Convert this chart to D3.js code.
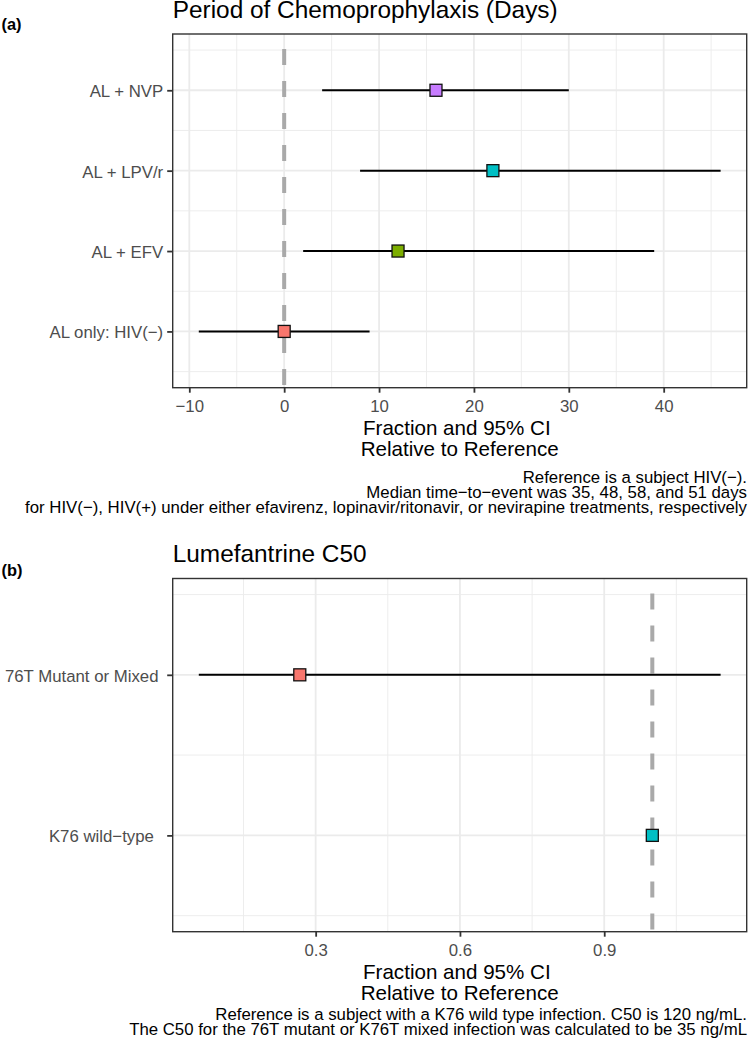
<!DOCTYPE html>
<html><head><meta charset="utf-8">
<script src="https://cdn.jsdelivr.net/npm/d3@7"></script>
<style>
html,body{margin:0;padding:0;background:#fff;}
svg{display:block;font-family:"Liberation Sans",Arial,Helvetica,sans-serif;}
</style></head><body>
<svg id="chart" width="748" height="1050"></svg>
<script>
// ---------- data (panel a) ----------
const chemoCategories = ["AL only: HIV(\u2212)", "AL + EFV", "AL + LPV/r", "AL + NVP"];
const chemoEstimate = [0, 12, 22, 16];
const chemoLower = [-9, 2, 8, 4];
const chemoUpper = [9, 39, 46, 30];
const chemoColors = ["#F8766D", "#7CAE00", "#00BFC4", "#C77CFF"];
const chemoTicks = [-10, 0, 10, 20, 30, 40];
const chemoReference = 0;
const chemoTitle = "Period of Chemoprophylaxis (Days)";
const chemoCaption = [
  "Reference is a subject HIV(\u2212).",
  "Median time\u2212to\u2212event was 35, 48, 58, and 51 days",
  "for HIV(\u2212), HIV(+) under either efavirenz, lopinavir/ritonavir, or nevirapine treatments, respectively"
];

// ---------- data (panel b) ----------
const c50Categories = ["K76 wild\u2212type\u00A0\u00A0", "76T Mutant or Mixed\u00A0"];
const c50Estimate = [1, 0.267];
const c50Lower = [1, 0.057];
const c50Upper = [1, 1.142];
const c50Colors = ["#00BFC4", "#F8766D"];
const c50Ticks = [0.3, 0.6, 0.9];
const c50Reference = 1;
const c50Title = "Lumefantrine C50";
const c50Caption = [
  "Reference is a subject with a K76 wild type infection. C50 is 120 ng/mL.",
  "The C50 for the 76T mutant or K76T mixed infection was calculated to be 35 ng/mL"
];

const axisTitleLines = ["Fraction and 95% CI\u00A0", "Relative to Reference"];

const svg = d3.select("#chart");

function drawPanel(o) {
  const g = svg.append("g");
  const box = o.box;
  const lo = d3.min(o.lower), hi = d3.max(o.upper);
  const pad = (hi - lo) * 0.05;
  const x = d3.scaleLinear().domain([lo - pad, hi + pad]).range([box.left, box.right]);
  const n = o.categories.length;
  const ypad = n * 0.05;
  const y = d3.scaleLinear().domain([0.5 - ypad, n + 0.5 + ypad]).range([box.bottom, box.top]);
  const idx = d3.range(1, n + 1);
  const step = o.ticks[1] - o.ticks[0];
  const dom = x.domain();
  const xMinor = [o.ticks[0] - step / 2].concat(o.ticks.map(t => t + step / 2)).filter(v => v >= dom[0] && v <= dom[1]);
  const yMinor = d3.range(0, n + 1).map(i => i + 0.5);

  // panel background
  g.append("rect").attr("x", box.left).attr("y", box.top)
    .attr("width", box.right - box.left).attr("height", box.bottom - box.top).attr("fill", "#fff");

  // gridlines
  const grid = g.append("g").attr("stroke", "#EBEBEB");
  grid.selectAll("line.xmin").data(xMinor).join("line").attr("class", "xmin")
    .attr("x1", d => x(d)).attr("x2", d => x(d)).attr("y1", box.top).attr("y2", box.bottom).attr("stroke-width", 0.9);
  grid.selectAll("line.ymin").data(yMinor).join("line").attr("class", "ymin")
    .attr("y1", d => y(d)).attr("y2", d => y(d)).attr("x1", box.left).attr("x2", box.right).attr("stroke-width", 0.9);
  grid.selectAll("line.xmaj").data(o.ticks).join("line").attr("class", "xmaj")
    .attr("x1", d => x(d)).attr("x2", d => x(d)).attr("y1", box.top).attr("y2", box.bottom).attr("stroke-width", 1.8);
  grid.selectAll("line.ymaj").data(idx).join("line").attr("class", "ymaj")
    .attr("y1", d => y(d)).attr("y2", d => y(d)).attr("x1", box.left).attr("x2", box.right).attr("stroke-width", 1.8);

  // reference line
  g.append("line").attr("x1", x(o.reference)).attr("x2", x(o.reference))
    .attr("y1", box.top).attr("y2", box.bottom)
    .attr("stroke", "#A9A9A9").attr("stroke-width", 4)
    .attr("stroke-dasharray", "16,16").attr("stroke-dashoffset", 17);

  // error bars
  g.selectAll("line.err").data(idx).join("line").attr("class", "err")
    .attr("x1", d => x(o.lower[d - 1])).attr("x2", d => x(o.upper[d - 1]))
    .attr("y1", d => y(d)).attr("y2", d => y(d))
    .attr("stroke", "#000").attr("stroke-width", 2);

  // points
  const s = 12;
  g.selectAll("rect.pt").data(idx).join("rect").attr("class", "pt")
    .attr("x", d => x(o.estimate[d - 1]) - s / 2).attr("y", d => y(d) - s / 2)
    .attr("width", s).attr("height", s)
    .attr("fill", d => o.colors[d - 1]).attr("stroke", "#111").attr("stroke-width", 1.3);

  // border
  g.append("rect").attr("x", box.left).attr("y", box.top)
    .attr("width", box.right - box.left).attr("height", box.bottom - box.top)
    .attr("fill", "none").attr("stroke", "#333333").attr("stroke-width", 1.4);

  // axes
  const xAxis = g.append("g").attr("transform", `translate(0,${box.bottom})`)
    .call(d3.axisBottom(x).tickValues(o.ticks).tickFormat(o.format).tickSize(5).tickPadding(7));
  const yAxis = g.append("g").attr("transform", `translate(${box.left},0)`)
    .call(d3.axisLeft(y).tickValues(idx).tickFormat(d => o.categories[d - 1]).tickSize(5.5).tickPadding(4));
  [xAxis, yAxis].forEach(a => {
    a.select(".domain").remove();
    a.selectAll(".tick line").attr("stroke", "#333333").attr("stroke-width", 1.8);
    a.selectAll(".tick text").attr("fill", "#4D4D4D").attr("font-size", 16.8)
      .attr("font-family", "Liberation Sans, Arial, sans-serif").style("white-space", "pre");
  });
  yAxis.selectAll(".tick text").attr("dy", "0.38em");

  // title and tag
  g.append("text").attr("x", box.left).attr("y", o.titleY).attr("font-size", 24.4).attr("fill", "#000").text(o.title);
  g.append("text").attr("x", 1.5).attr("y", o.tagY).attr("font-size", 16.4).attr("font-weight", "bold").attr("fill", "#000").text(o.tag);

  // axis title
  const cx = (box.left + box.right) / 2;
  g.selectAll("text.axt").data(axisTitleLines).join("text").attr("class", "axt")
    .attr("x", cx).attr("y", (d, i) => box.bottom + 47 + i * 21.6)
    .attr("text-anchor", "middle").attr("font-size", 20.6).attr("fill", "#000")
    .style("white-space", "pre").text(d => d);

  // caption
  g.selectAll("text.cap").data(o.caption).join("text").attr("class", "cap")
    .attr("x", 747).attr("y", (d, i) => o.captionY + i * 15)
    .attr("text-anchor", "end").attr("font-size", 16.8).attr("fill", "#000").text(d => d);
}

drawPanel({
  categories: chemoCategories, estimate: chemoEstimate, lower: chemoLower, upper: chemoUpper,
  colors: chemoColors, ticks: chemoTicks, reference: chemoReference, format: d3.format("d"),
  box: {left: 172.7, right: 746.7, top: 34, bottom: 387.7},
  title: chemoTitle, titleY: 17.5, tag: "(a)", tagY: 30, caption: chemoCaption, captionY: 483
});
drawPanel({
  categories: c50Categories, estimate: c50Estimate, lower: c50Lower, upper: c50Upper,
  colors: c50Colors, ticks: c50Ticks, reference: c50Reference, format: d3.format(".1f"),
  box: {left: 172.7, right: 746.7, top: 578.5, bottom: 931.7},
  title: c50Title, titleY: 562.3, tag: "(b)", tagY: 576, caption: c50Caption, captionY: 1020
});
</script>
</body></html>
